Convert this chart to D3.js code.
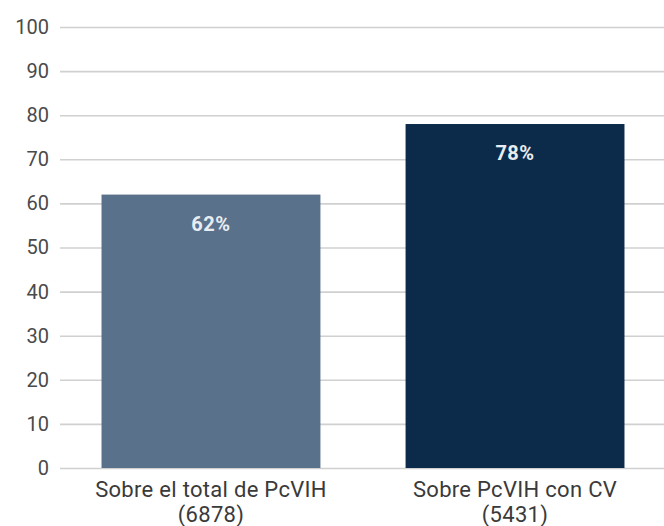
<!DOCTYPE html>
<html>
<head>
<meta charset="utf-8">
<script src="https://cdn.jsdelivr.net/npm/d3@7"></script>
<style>
  body { margin: 0; background: #fff; }
  text { font-family: Roboto, "Liberation Sans", sans-serif; }
</style>
</head>
<body>
<div class="chart"></div>
<script>
var categories = ["Sobre el total de PcVIH", "Sobre PcVIH con CV"];
var counts = ["(6878)", "(5431)"];
var values = [62, 78];
var colors = ["#5a718c", "#0c2b4a"];
var yTicks = [0, 10, 20, 30, 40, 50, 60, 70, 80, 90, 100];

var width = 664;
var height = 526;

var svg = d3.select("div.chart")
    .append("svg")
    .attr("width", width)
    .attr("height", height);

var y = d3.scaleLinear()
    .domain([0, 100])
    .range([468, 27]);

var x = d3.scaleBand()
    .domain(categories)
    .range([62, 664])
    .paddingInner(0.28)
    .paddingOuter(0.13);

// rejilla + etiquetas del eje
var yAxis = d3.axisLeft(y)
    .tickValues(yTicks)
    .tickSize(-(664 - 60))
    .tickPadding(11);

var gy = svg.append("g")
    .attr("transform", "translate(60,0)")
    .call(yAxis);
gy.select(".domain").remove();
gy.selectAll(".tick line")
    .attr("stroke", "#d0d0d0")
    .attr("stroke-width", 1.6);
gy.selectAll(".tick text")
    .attr("fill", "#4a4a4a")
    .style("font-size", "20px");

// barras
svg.selectAll("rect.bar")
    .data(values)
    .enter()
    .append("rect")
    .attr("class", "bar")
    .attr("x", (d, i) => x(categories[i]))
    .attr("y", (d) => y(d))
    .attr("width", x.bandwidth())
    .attr("height", (d) => y(0) - y(d))
    .attr("fill", (d, i) => colors[i]);

// porcentajes
svg.selectAll("text.pct")
    .data(values)
    .enter()
    .append("text")
    .attr("class", "pct")
    .attr("x", (d, i) => x(categories[i]) + x.bandwidth() / 2)
    .attr("y", (d) => y(d) + 36)
    .attr("text-anchor", "middle")
    .attr("fill", "#e8edf2")
    .style("font-size", "20px")
    .style("font-weight", "bold")
    .style("letter-spacing", "0.5px")
    .text((d) => d + "%");

// etiquetas de categoria
var labels = svg.selectAll("text.cat")
    .data(categories)
    .enter()
    .append("text")
    .attr("class", "cat")
    .attr("x", (d) => x(d) + x.bandwidth() / 2)
    .attr("y", 497)
    .attr("text-anchor", "middle")
    .attr("fill", "#3a3a3a")
    .style("font-size", "22px")
    .style("letter-spacing", "0.3px");

labels.append("tspan")
    .attr("x", (d) => x(d) + x.bandwidth() / 2)
    .text((d) => d);
labels.append("tspan")
    .attr("x", (d) => x(d) + x.bandwidth() / 2)
    .attr("dy", 25)
    .text((d, i) => counts[i]);
</script>
</body>
</html>
